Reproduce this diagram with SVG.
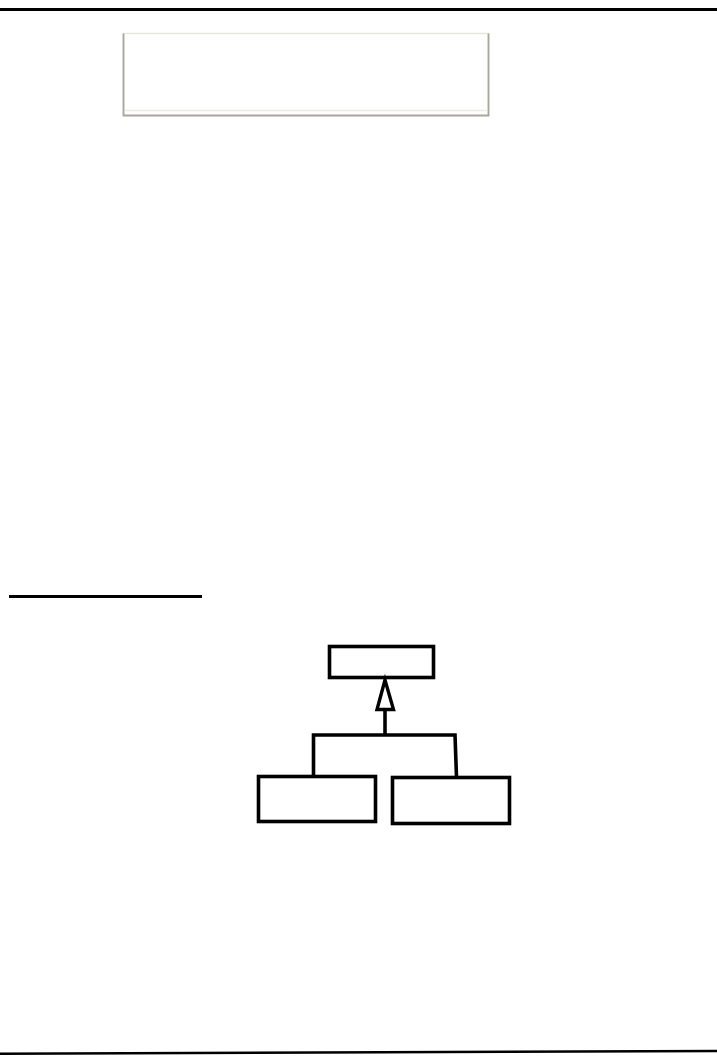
<svg xmlns="http://www.w3.org/2000/svg" width="717" height="1057" viewBox="0 0 717 1057">
<style>
.k{fill:none;stroke:#000;stroke-width:3.6}
.n{fill:#fff;stroke:#000;stroke-width:3.6}
</style>
<rect width="717" height="1057" fill="#fff"/>
<g id="rules">
<line x1="0" y1="9.5" x2="717" y2="9.5" stroke="#000" stroke-width="3"/>
<line x1="9" y1="596.5" x2="202" y2="596.5" stroke="#000" stroke-width="3"/>
<line x1="0" y1="1053.8" x2="717" y2="1051" stroke="#000" stroke-width="2.6"/>
</g>
<g id="frame">
<rect x="123.5" y="33.5" width="365" height="82" fill="#fff" stroke="#e6e6dc" stroke-width="1.5"/>
<path d="M123.5,33.5 V115.5 H488.5 V33.5" fill="none" stroke="#a9a89e" stroke-width="1.8"/>
<line x1="125" y1="110.5" x2="487" y2="110.5" stroke="#ecece2" stroke-width="1.5"/>
</g>
<g id="parent"><rect class="n" x="329.5" y="646.5" width="104" height="31"/></g>
<g id="childA"><rect class="n" x="258.5" y="776.5" width="117" height="45"/></g>
<g id="childB"><rect class="n" x="392.5" y="777.5" width="117" height="46"/></g>
<g id="connectors">
<path class="k" d="M313.5,776 V735 H455 L456.5,777"/>
<line class="k" x1="385" y1="735" x2="385" y2="710"/>
<polygon points="385,680 377,709.5 393.5,709.5" fill="#fff" stroke="#000" stroke-width="3.4" stroke-linejoin="miter"/>
</g>
</svg>
